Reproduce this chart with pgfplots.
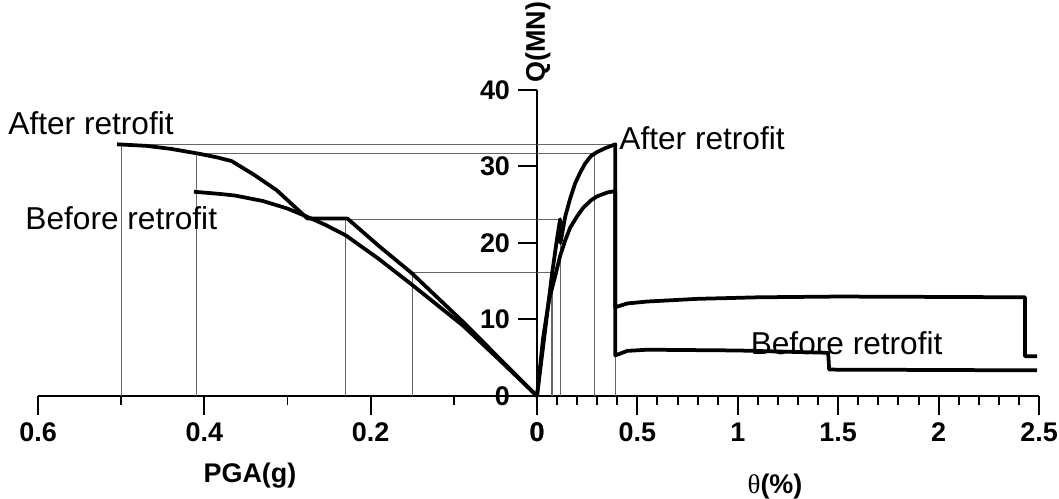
\documentclass[border=0pt]{standalone}
\usepackage{pgfplots}
\pgfplotsset{compat=1.18}
\usepackage{fontspec}
\setmainfont{Liberation Sans}
\newfontfamily\serifgr{Liberation Serif}

\begin{document}
\begin{tikzpicture}
\useasboundingbox (-8.055,-1.545) rectangle (7.83,5.94);
\pgfplotsset{
  every axis/.append style={
    scale only axis, height=4.59cm, ymin=0, ymax=40,
    clip=false,
    axis line style={line width=0.85pt},
    every tick/.style={line width=0.85pt, black},
    major tick length=8pt, minor tick length=4pt,
    ticklabel style={font=\bfseries\fontsize{11.5}{13}\selectfont},
    /pgf/number format/assume math mode=true,
  },
  guide/.style={black!60, line width=0.5pt},
  curve/.style={black, line width=1.6pt, line join=round},
}
\tikzset{lbl/.style={anchor=west, inner sep=0pt, font=\fontsize{13.5}{16}\selectfont}}

% left half: PGA (reversed)
\begin{axis}[at={(0,0)}, anchor=south east, width=7.485cm,
  xmin=0, xmax=0.6, x dir=reverse,
  axis x line*=bottom, axis y line=none, tick align=outside,
  xtick={0,0.2,0.4,0.6}, minor xtick={0.1,0.3,0.5}]
\addplot[guide] coordinates {(0.5,0) (0.5,32.9) (0,32.9)};
\addplot[guide] coordinates {(0.409,0) (0.409,31.7) (0,31.7)};
\addplot[guide] coordinates {(0.23,0) (0.23,23.1) (0,23.1)};
\addplot[guide] coordinates {(0.15,0) (0.15,16.1) (0,16.1)};
% after retrofit
\addplot[curve] coordinates {(0.505,32.9) (0.47,32.7) (0.44,32.3) (0.408,31.7)
  (0.385,31.2) (0.367,30.7) (0.34,28.9) (0.313,26.9) (0.29,24.6) (0.276,23.2)
  (0.228,23.2) (0.19,19.6) (0.151,16.1) (0.12,12.9) (0.089,9.7) (0.045,4.9) (0,0)};
% before retrofit
\addplot[curve] coordinates {(0.4125,26.7) (0.38,26.4) (0.363,26.2) (0.33,25.5)
  (0.30,24.5) (0.28,23.6) (0.255,22.4) (0.23,21.0) (0.19,17.9) (0.151,14.6)
  (0.12,11.9) (0.089,9.2) (0.045,4.7) (0,0)};
\end{axis}

% right half: drift
\begin{axis}[at={(0,0)}, anchor=south west, width=7.53cm,
  xmin=0, xmax=2.5,
  axis x line*=bottom, axis y line*=left, tick align=outside,
  xtick={0,0.5,1,1.5,2,2.5}, minor x tick num=4,
  ytick={0,10,20,30,40}]
\addplot[guide] coordinates {(0,32.9) (0.39,32.9) (0.39,0)};
\addplot[guide] coordinates {(0,31.7) (0.285,31.7) (0.285,0)};
\addplot[guide] coordinates {(0,23.1) (0.115,23.1) (0.115,0)};
\addplot[guide] coordinates {(0,16.1) (0.075,16.1) (0.075,0)};
% after retrofit
\addplot[curve] coordinates {(0,0) (0.04,8.5) (0.075,16) (0.1,20.6) (0.115,23.1)
  (0.117,20.0) (0.14,23.4) (0.165,25.8) (0.19,27.8) (0.215,29.2) (0.24,30.4)
  (0.27,31.4) (0.3,31.9) (0.34,32.4) (0.39,32.9) (0.39,11.6) (0.45,12.1)
  (0.55,12.35) (0.8,12.7) (1.1,12.9) (1.5,13.0) (2.0,12.95) (2.43,12.9)
  (2.43,5.2) (2.49,5.2)};
% before retrofit
\addplot[curve] coordinates {(0,0) (0.03,7.5) (0.06,12.6) (0.09,15.6) (0.115,18.3)
  (0.14,20.3) (0.165,22) (0.2,23.5) (0.23,24.6) (0.27,25.6) (0.3,26.1)
  (0.35,26.6) (0.39,26.8) (0.39,5.3) (0.45,5.9) (0.55,6.05) (1.0,5.95)
  (1.45,5.65) (1.455,3.45) (2.0,3.4) (2.49,3.35)};
\end{axis}

\node[lbl] at (-7.935,4.095) {After retrofit};
\node[lbl] at (-7.68,2.67) {Before retrofit};
\node[lbl] at (1.23,3.87) {After retrofit};
\node[lbl] at (3.2,0.795) {Before retrofit};
\node[font=\bfseries\fontsize{11.5}{13}\selectfont] at (-4.305,-1.2) {PGA(g)};
\node[font=\fontsize{11.5}{13}\selectfont] at (3.57,-1.365) {{\serifgr θ}\textbf{(\%)}};
\node[rotate=90, font=\bfseries\fontsize{11.5}{13}\selectfont] at (0.015,5.31) {Q(MN)};
\end{tikzpicture}
\end{document}
